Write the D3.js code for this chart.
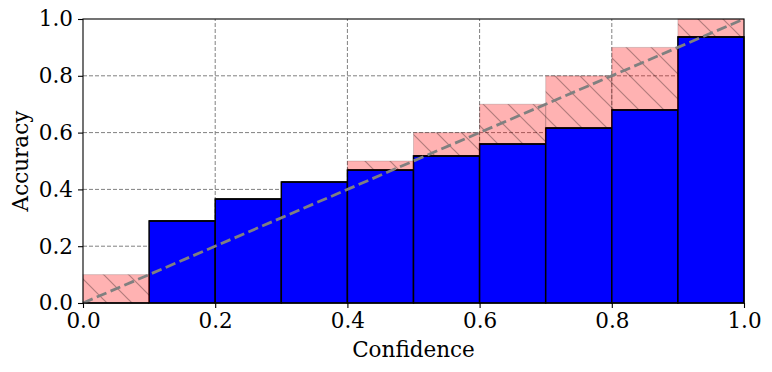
<!DOCTYPE html>
<html>
<head>
<meta charset="utf-8">
<script src="https://cdn.jsdelivr.net/npm/d3@7"></script>
<style>
  html, body { margin: 0; padding: 0; background: #fff; }
  svg { display: block; }
</style>
</head>
<body>
<svg id="chart" width="772" height="372"></svg>
<script>
// ---- data ----
const binLower = [0.0, 0.1, 0.2, 0.3, 0.4, 0.5, 0.6, 0.7, 0.8, 0.9];
const binWidth = 0.1;
const accuracy = [0.0, 0.289, 0.366, 0.426, 0.468, 0.518, 0.56, 0.616, 0.68, 0.937];
const expected = [0.1, 0.2, 0.3, 0.4, 0.5, 0.6, 0.7, 0.8, 0.9, 1.0];
const xTicks = [0.0, 0.2, 0.4, 0.6, 0.8, 1.0];
const yTicks = [0.0, 0.2, 0.4, 0.6, 0.8, 1.0];
const gridTicks = [0.2, 0.4, 0.6, 0.8];
const xLabel = "Confidence";
const yLabel = "Accuracy";

// ---- layout ----
const W = 772, H = 372;
const m = { left: 83, right: 28, top: 19, bottom: 69 };
const FONT = "'DejaVu Serif', 'Liberation Serif', serif";
const FS = "21.5px";
const svg = d3.select("#chart");
const x = d3.scaleLinear().domain([0, 1]).range([m.left, W - m.right]);
const y = d3.scaleLinear().domain([0, 1]).range([H - m.bottom, m.top]);

const defs = svg.append("defs");
const s = 25;
const pat = defs.append("pattern")
  .attr("id", "hatch")
  .attr("patternUnits", "userSpaceOnUse")
  .attr("width", s).attr("height", s)
  .attr("x", 4).attr("y", 0);
pat.append("path")
  .attr("d", `M${-s},${-s}L${2*s},${2*s}M${-s},0L${s},${2*s}M0,${-s}L${2*s},${s}`)
  .attr("stroke", "rgba(0,0,0,0.3)")
  .attr("stroke-width", 1.2)
  .attr("fill", "none");

// grid
const g = svg.append("g");
g.selectAll("line.gx").data(gridTicks).join("line")
  .attr("x1", d => x(d)).attr("x2", d => x(d))
  .attr("y1", y(0)).attr("y2", y(1))
  .attr("stroke", "#808080").attr("stroke-width", 1)
  .attr("stroke-dasharray", "4,2");
g.selectAll("line.gy").data(gridTicks).join("line")
  .attr("y1", d => y(d)).attr("y2", d => y(d))
  .attr("x1", x(0)).attr("x2", x(1))
  .attr("stroke", "#808080").attr("stroke-width", 1)
  .attr("stroke-dasharray", "4,2");

// bins data
const bins = binLower.map((lo, i) => ({ lo, acc: accuracy[i], exp: expected[i] }));

// blue accuracy bars
svg.append("g").selectAll("rect").data(bins).join("rect")
  .attr("x", d => x(d.lo))
  .attr("width", d => x(d.lo + binWidth) - x(d.lo))
  .attr("y", d => y(d.acc))
  .attr("height", d => y(0) - y(d.acc))
  .attr("fill", "#0000ff")
  .attr("stroke", "#000").attr("stroke-width", 1.5);

// gap bars
const gaps = bins.filter(d => d.exp > d.acc);
const gg = svg.append("g");
gg.selectAll("rect.fill").data(gaps).join("rect")
  .attr("x", d => x(d.lo))
  .attr("width", d => x(d.lo + binWidth) - x(d.lo))
  .attr("y", d => y(d.exp))
  .attr("height", d => y(d.acc) - y(d.exp))
  .attr("fill", "rgba(255,0,0,0.3)")
  .attr("stroke", "rgba(0,0,0,0.15)").attr("stroke-width", 1);
gg.selectAll("rect.hatch").data(gaps).join("rect")
  .attr("x", d => x(d.lo))
  .attr("width", d => x(d.lo + binWidth) - x(d.lo))
  .attr("y", d => y(d.exp))
  .attr("height", d => y(d.acc) - y(d.exp))
  .attr("fill", "url(#hatch)");
// redraw blue top edges over gaps
svg.append("g").selectAll("line").data(bins).join("line")
  .attr("x1", d => x(d.lo)).attr("x2", d => x(d.lo + binWidth))
  .attr("y1", d => y(d.acc)).attr("y2", d => y(d.acc))
  .attr("stroke", "#000").attr("stroke-width", 1.5);

// diagonal
svg.append("line")
  .attr("x1", x(0)).attr("y1", y(0)).attr("x2", x(1)).attr("y2", y(1))
  .attr("stroke", "#808080").attr("stroke-width", 2.8)
  .attr("stroke-dasharray", "10.5,4.5");

// frame
svg.append("rect")
  .attr("x", x(0)).attr("y", y(1))
  .attr("width", x(1) - x(0)).attr("height", y(0) - y(1))
  .attr("fill", "none").attr("stroke", "#000").attr("stroke-width", 1.1);

// axes
const fmt = d3.format(".1f");
const xAxis = svg.append("g")
  .attr("transform", `translate(0,${y(0)})`)
  .call(d3.axisBottom(x).tickValues(xTicks).tickFormat(fmt).tickSize(5).tickPadding(5));
const yAxis = svg.append("g")
  .attr("transform", `translate(${x(0)},0)`)
  .call(d3.axisLeft(y).tickValues(yTicks).tickFormat(fmt).tickSize(5).tickPadding(5));
[xAxis, yAxis].forEach(a => {
  a.attr("font-family", null).attr("font-size", null);
  a.select(".domain").remove();
  a.selectAll(".tick line").attr("stroke", "#000").attr("stroke-width", 1.1);
  a.selectAll(".tick text")
    .style("font-family", FONT).style("font-size", FS).style("fill", "#000");
});

svg.append("text")
  .attr("x", (x(0) + x(1)) / 2).attr("y", 357)
  .attr("text-anchor", "middle")
  .style("font-family", FONT).style("font-size", FS)
  .text(xLabel);
svg.append("text")
  .attr("transform", `translate(28,${(y(0) + y(1)) / 2}) rotate(-90)`)
  .attr("text-anchor", "middle")
  .style("font-family", FONT).style("font-size", FS)
  .text(yLabel);
</script>
</body>
</html>
